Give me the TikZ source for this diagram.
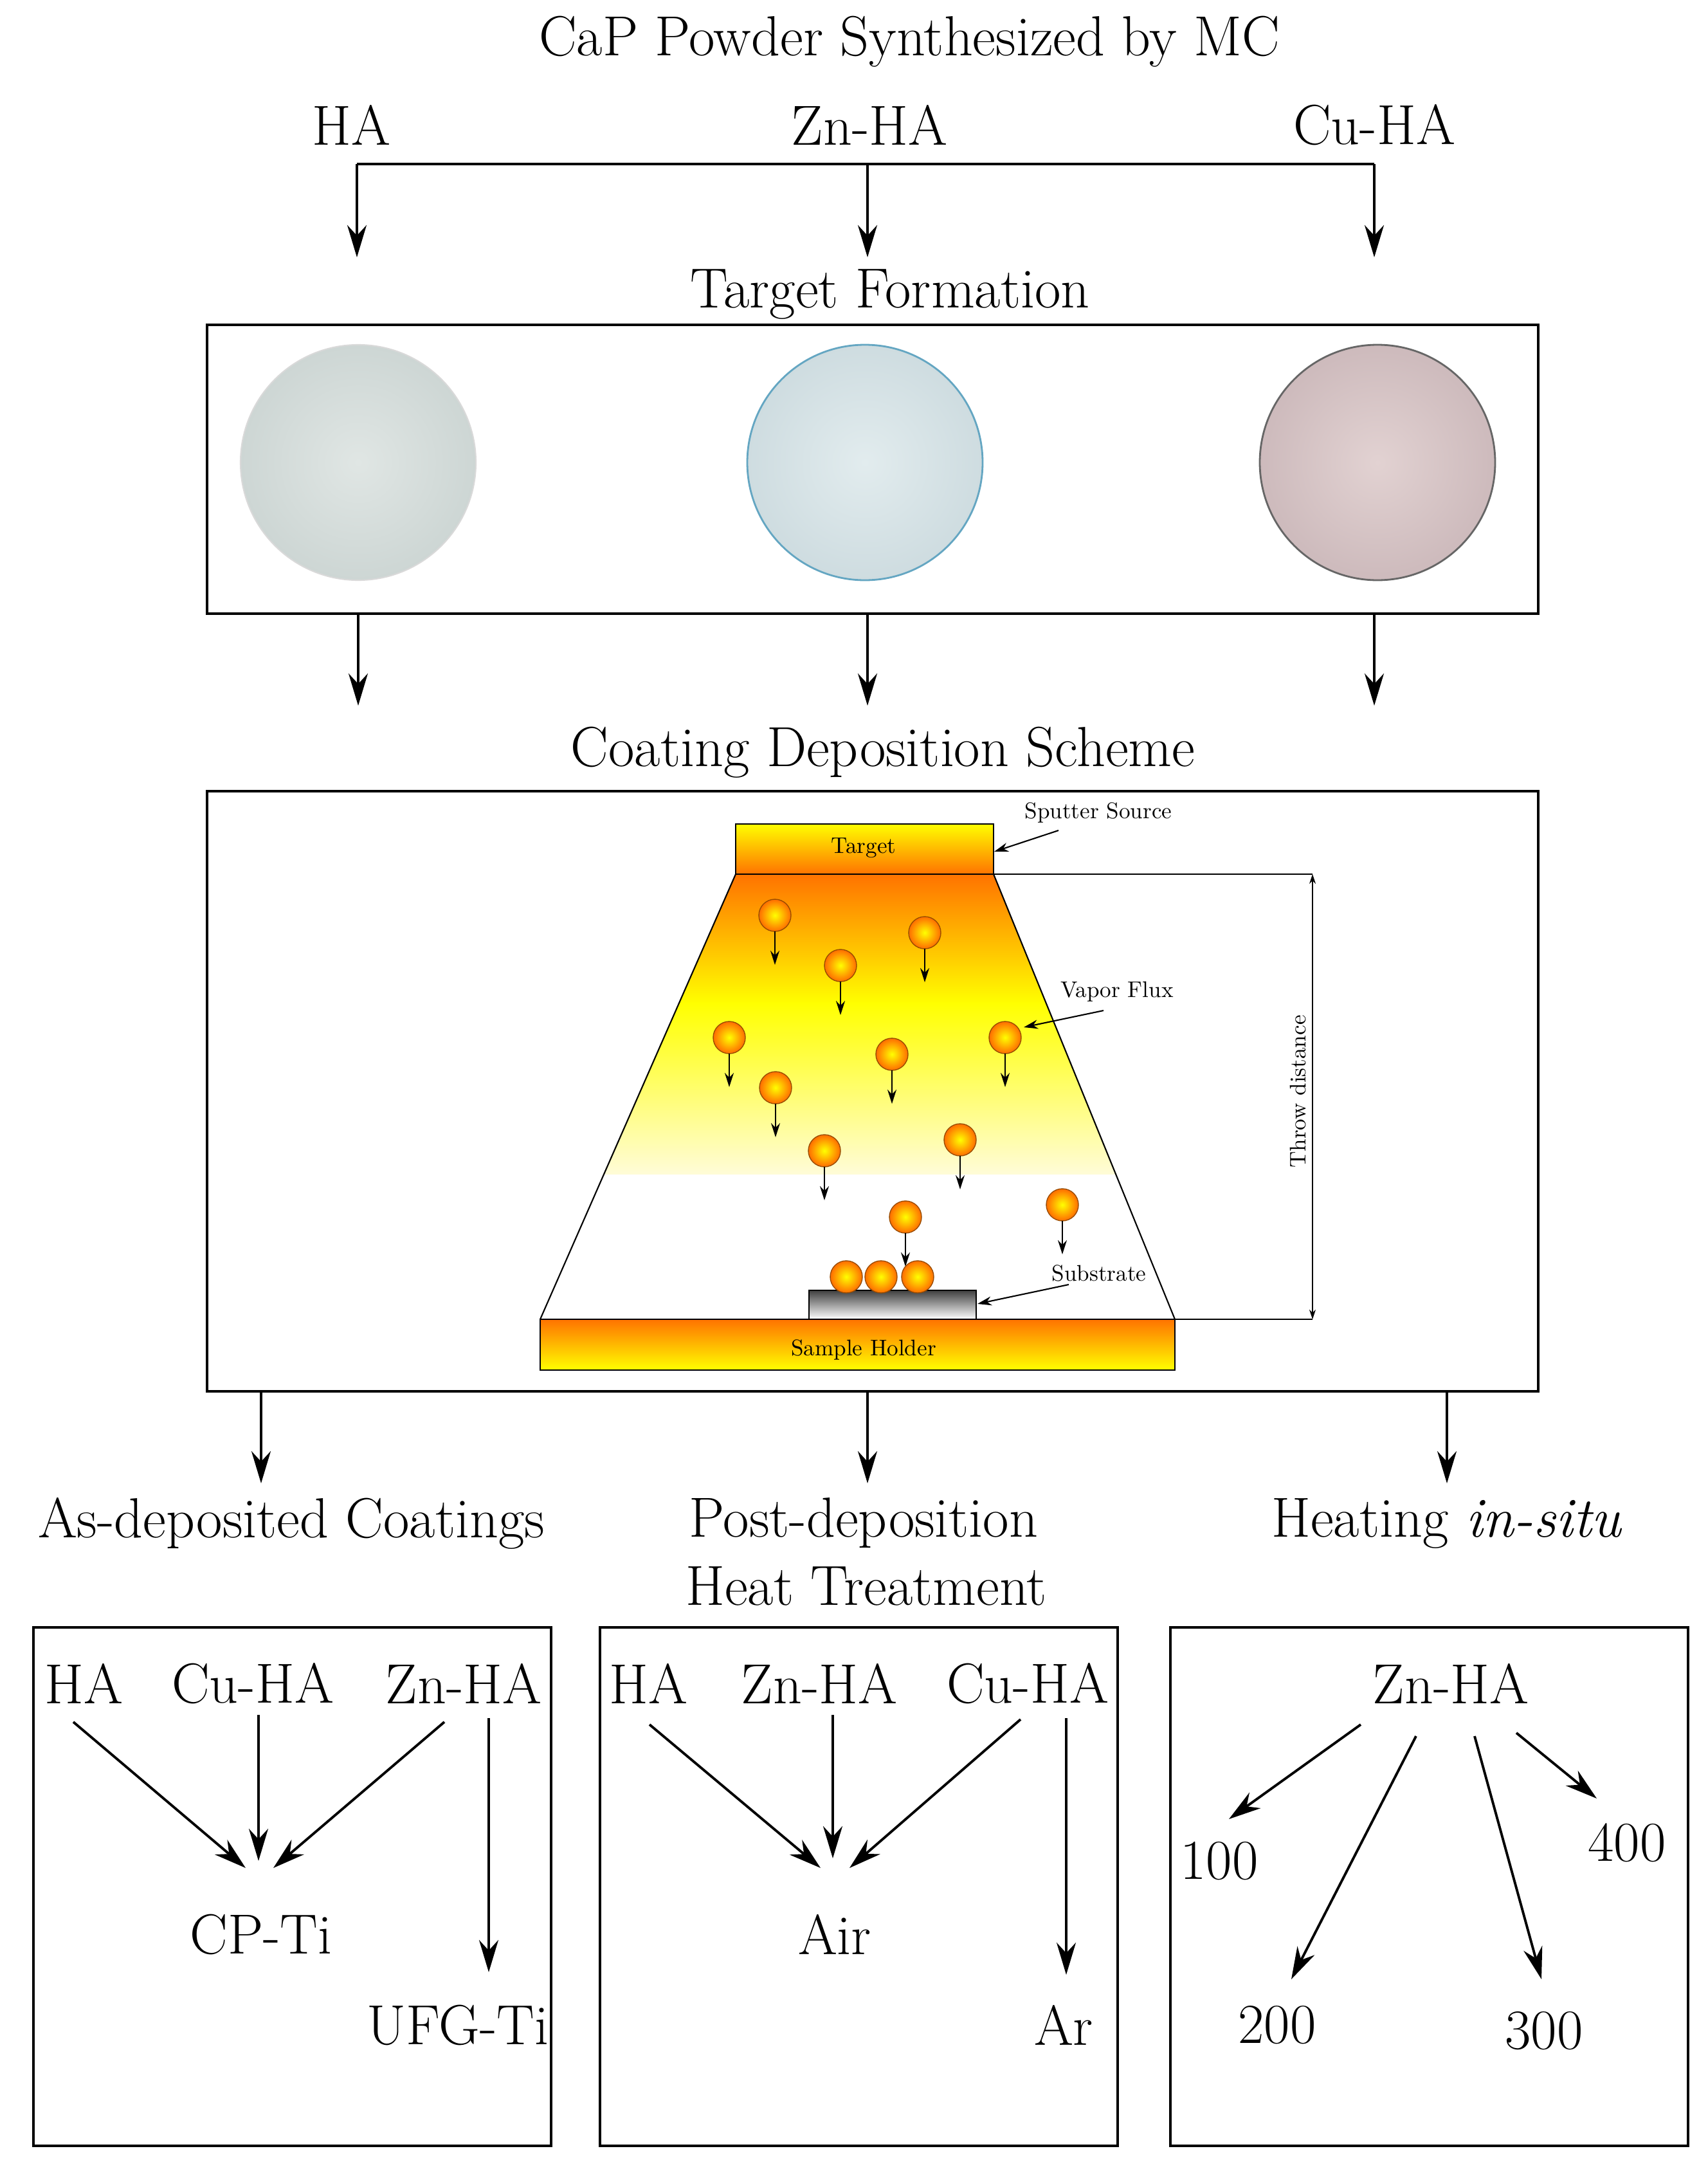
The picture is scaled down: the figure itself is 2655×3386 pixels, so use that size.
\documentclass[tikz,border=0pt]{standalone}
\usetikzlibrary{arrows.meta}
\begin{document}
\begin{tikzpicture}[x=0.1mm,y=-0.1mm,
 big/.style={font=\fontsize{25}{30}\selectfont,inner sep=0pt},
 small/.style={font=\fontsize{10}{11}\selectfont,inner sep=0pt},
 arr/.style={-{Stealth[length=5mm,width=3mm]},line width=1.1pt},
 sarr/.style={-{Stealth[length=2.2mm,width=1.4mm]},line width=0.6pt},
 box/.style={draw,line width=1pt},
 ball/.style={inner color=yellow,outer color=orange!85!red},
]
\useasboundingbox (0,0) rectangle (2655,3386);
\definecolor{orng}{RGB}{255,115,0}
\definecolor{lyel}{RGB}{255,252,215}
\definecolor{dha}{RGB}{224,230,228}
\definecolor{dhaO}{RGB}{205,214,212}
\definecolor{dzn}{RGB}{226,236,238}
\definecolor{dznO}{RGB}{206,220,224}
\definecolor{dcu}{RGB}{226,210,210}
\definecolor{dcuO}{RGB}{205,186,188}
% top
\node[big] (title) at (1414,65) {CaP Powder Synthesized by MC};
\node[big] (ha) at (546,194) {HA};
\node[big] (zn) at (1352,194) {Zn-HA};
\node[big] (cu) at (2137,194) {Cu-HA};
\coordinate (j1) at (555,255); \coordinate (j2) at (1349,255); \coordinate (j3) at (2137,255);
\coordinate (e1) at (555,400); \coordinate (e2) at (1349,400); \coordinate (e3) at (2137,400);
\draw[line width=1.1pt] (j1) -- (j3);
\draw[arr] (j1) -- (e1); \draw[arr] (j2) -- (e2); \draw[arr] (j3) -- (e3);
\node[big] (tf) at (1384,458) {Target Formation};
\node[box,minimum width=2070*0.1mm,minimum height=449*0.1mm,anchor=north west] (b1) at (320,503) {};
\shade[inner color=dha,outer color=dhaO] (557,719) circle (183);
\draw[gray!30,line width=0.6pt] (557,719) circle (183);
\shade[inner color=dzn,outer color=dznO] (1345,719) circle (183);
\draw[cyan!50!gray,line width=0.8pt] (1345,719) circle (183);
\shade[inner color=dcu,outer color=dcuO] (2142,719) circle (183);
\draw[gray!80!black,line width=0.8pt] (2142,719) circle (183);
\coordinate (s1) at (557,952); \coordinate (s2) at (1349,952); \coordinate (s3) at (2137,952);
\coordinate (t1) at (557,1097); \coordinate (t2) at (1349,1097); \coordinate (t3) at (2137,1097);
\draw[arr] (s1) -- (t1); \draw[arr] (s2) -- (t2); \draw[arr] (s3) -- (t3);
\node[big] (cds) at (1373,1170) {Coating Deposition Scheme};
\node[box,minimum width=2070*0.1mm,minimum height=933*0.1mm,anchor=north west] (b2) at (320,1228) {};
% scheme
\begin{scope}
\clip (1144,1359) -- (1545,1359) -- (1827,2051) -- (840,2051) -- cycle;
\shade[top color=orng,bottom color=yellow] (800,1359) rectangle (1900,1560);
\shade[top color=yellow,bottom color=lyel] (800,1559) rectangle (1900,1825);
\end{scope}
\draw[line width=0.6pt] (1144,1359) -- (840,2051) (1545,1359) -- (1827,2051);
\shade[top color=yellow,bottom color=orng] (1144,1281) rectangle (1545,1359);
\draw[line width=0.6pt] (1144,1281) rectangle (1545,1359);
\node[small] (tgt) at (1343,1318) {Target};
\shade[top color=orng,bottom color=yellow] (840,2051) rectangle (1827,2130);
\draw[line width=0.6pt] (840,2051) rectangle (1827,2130);
\node[small] (sh) at (1343,2098) {Sample Holder};
\shade[top color=black!75,bottom color=white] (1258,2006) rectangle (1518,2051);
\draw[line width=0.5pt] (1258,2006) rectangle (1518,2051);
\foreach \x/\y in {1205/1423,1438/1450,1307/1501,1134/1613,1563/1613,1387/1639,1206/1691,1282/1789,1493/1772,1408/1892,1652/1873}{
 \shade[ball] (\x,\y) circle (25); \draw[orange!60!black,line width=0.4pt] (\x,\y) circle (25);
 \draw[sarr] (\x,\y+25) -- (\x,\y+77);}
\foreach \x in {1316,1370,1427}{
 \shade[ball] (\x,1985) circle (25); \draw[orange!60!black,line width=0.4pt] (\x,1985) circle (25);}
\node[small] (ss) at (1708,1264) {Sputter Source};
\node[small] (vf) at (1737,1542) {Vapor Flux};
\node[small] (sub) at (1709,1979) {Substrate};
\coordinate (ssa) at (1646,1291); \coordinate (ssb) at (1546,1324);
\coordinate (vfa) at (1716,1571); \coordinate (vfb) at (1592,1597);
\coordinate (sba) at (1662,1997); \coordinate (sbb) at (1520,2027);
\draw[sarr] (ssa) -- (ssb); \draw[sarr] (vfa) -- (vfb); \draw[sarr] (sba) -- (sbb);
\draw[line width=0.4pt] (1545,1359) -- (2041,1359) (1827,2051) -- (2041,2051);
\coordinate (th1) at (2041,1359); \coordinate (th2) at (2041,2051);
\draw[{Stealth[length=1.5mm,width=1mm]}-{Stealth[length=1.5mm,width=1mm]},line width=0.4pt] (th1) -- (th2);
\node[small,rotate=90] (thr) at (2018,1697) {Throw distance};
% bottom
\coordinate (u1) at (406,2161); \coordinate (u2) at (1349,2161); \coordinate (u3) at (2250,2161);
\coordinate (v1) at (406,2306); \coordinate (v2) at (1349,2306); \coordinate (v3) at (2250,2306);
\draw[arr] (u1) -- (v1); \draw[arr] (u2) -- (v2); \draw[arr] (u3) -- (v3);
\node[big] (adc) at (453,2368) {As-deposited Coatings};
\node[big] (pd) at (1343,2368) {Post-deposition};
\node[big] (ht) at (1347,2466) {Heat Treatment};
\node[big] (his) at (2250,2368) {Heating \textit{in-situ}};
\draw[box] (52,2530) rectangle (857,3336);
\draw[box] (933,2530) rectangle (1738,3336);
\draw[box] (1820,2530) rectangle (2625,3336);
% box 1
\node[big] at (130,2617) {HA}; \node[big] at (393,2617) {Cu-HA}; \node[big] at (721,2617) {Zn-HA};
\node[big] at (406,3007) {CP-Ti}; \node[big] at (712,3148) {UFG-Ti};
\draw[arr] (114,2677) -- (382,2904); \draw[arr] (402,2666) -- (402,2893);
\draw[arr] (691,2677) -- (425,2904); \draw[arr] (760,2671) -- (760,3066);
% box 2
\node[big] at (1008,2617) {HA}; \node[big] at (1274,2617) {Zn-HA}; \node[big] at (1598,2617) {Cu-HA};
\node[big] at (1298,3007) {Air}; \node[big] at (1654,3148) {Ar};
\draw[arr] (1010,2681) -- (1276,2904); \draw[arr] (1295,2666) -- (1295,2889);
\draw[arr] (1587,2673) -- (1321,2904); \draw[arr] (1658,2671) -- (1658,3070);
% box 3
\node[big] at (2256,2617) {Zn-HA};
\node[big] at (1896,2893) {100}; \node[big] at (1986,3148) {200};
\node[big] at (2401,3157) {300}; \node[big] at (2530,2865) {400};
\draw[arr] (2116,2681) -- (1911,2828); \draw[arr] (2202,2699) -- (2008,3077);
\draw[arr] (2293,2699) -- (2397,3077); \draw[arr] (2358,2694) -- (2483,2796);
\end{tikzpicture}
\end{document}
